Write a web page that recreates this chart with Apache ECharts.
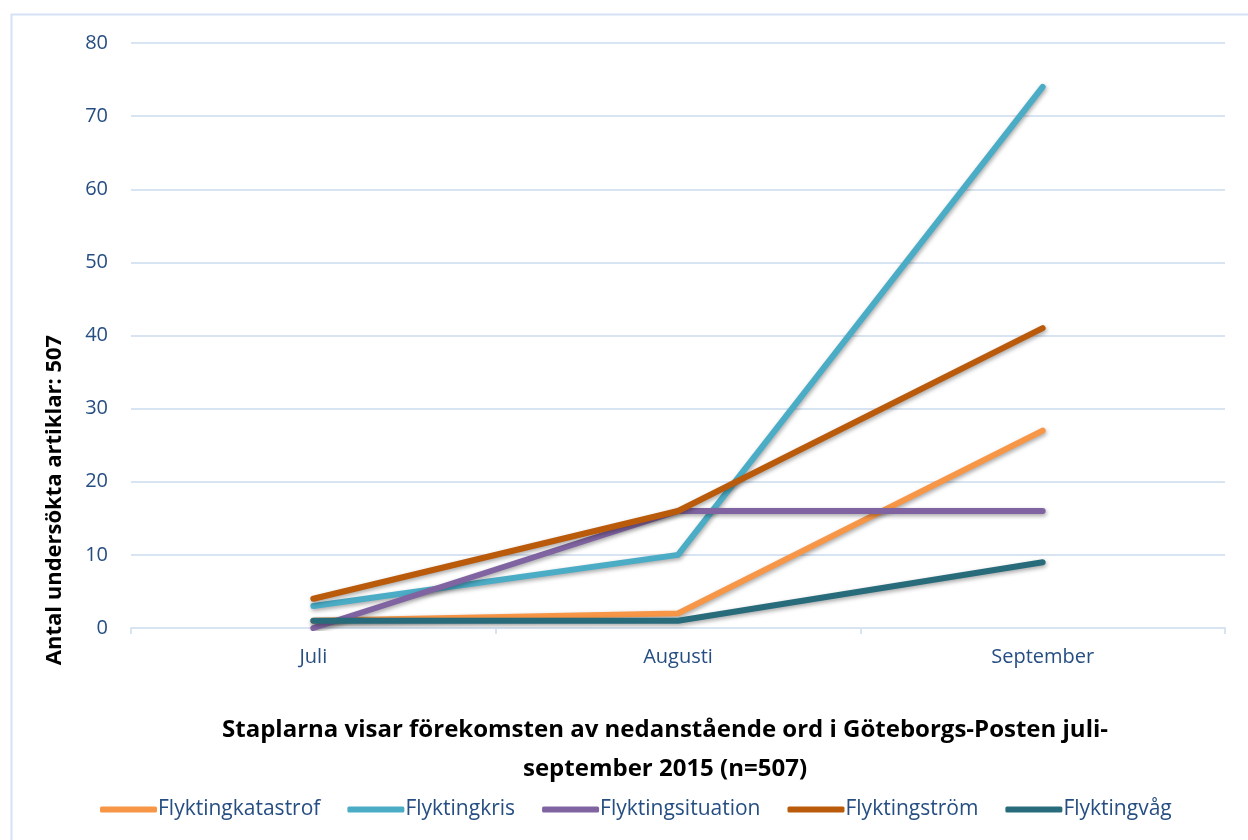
<!DOCTYPE html>
<html>
<head>
<meta charset="utf-8">
<script src="https://cdn.jsdelivr.net/npm/echarts@6/dist/echarts.min.js"></script>
<style>
  html, body { margin: 0; padding: 0; background: #fff; }
  #chart { width: 1248px; height: 840px; }
</style>
</head>
<body>
<div id="chart"></div>
<script>
const months = ['Juli', 'Augusti', 'September']
const seriesNames = ['Flyktingkatastrof', 'Flyktingkris', 'Flyktingsituation', 'Flyktingström', 'Flyktingvåg']
const katastrof = [1, 2, 27]
const kris = [3, 10, 74]
const situation = [0, 16, 16]
const strom = [4, 16, 41]
const vag = [1, 1, 9]
const colors = ['#F79646', '#4BACC6', '#8064A2', '#BA5A0B', '#286C7C']

const textBlue = '#264E82'
const gridColor = '#D9E4F2'
const font = '"Open Sans", Lato, sans-serif'

const chart = echarts.init(document.getElementById('chart'))

const values = [katastrof, kris, situation, strom, vag]

const option = {
  animation: false,
  textStyle: { fontFamily: font },
  graphic: [{
    type: 'rect',
    shape: { x: 11.5, y: 14.5, width: 1250, height: 840 },
    style: { fill: 'none', stroke: '#D6E2F3', lineWidth: 2 },
    silent: true
  }, {
    // y axis title, placed like in the Excel original (not centred on the axis)
    type: 'text',
    x: 55,
    y: 500,
    rotation: Math.PI / 2,
    style: {
      text: 'Antal undersökta artiklar: 507',
      fontFamily: font,
      fontSize: 22,
      fontWeight: 'bold',
      fill: '#000',
      align: 'center',
      verticalAlign: 'middle'
    }
  }],
  title: {
    text: 'Staplarna visar förekomsten av nedanstående ord i Göteborgs-Posten juli-\nseptember 2015 (n=507)',
    left: 660,
    textAlign: 'center',
    top: 706,
    textStyle: {
      fontFamily: font,
      fontSize: 24,
      fontWeight: 'bold',
      color: '#000',
      lineHeight: 39
    }
  },
  legend: {
    data: seriesNames,
    top: 794,
    left: 95,
    itemWidth: 57,
    itemHeight: 6,
    itemGap: 27,
    icon: 'roundRect',
    textStyle: { fontFamily: font, fontSize: 21, color: textBlue, padding: [0, 0, 0, -4] }
  },
  grid: {
    left: 131,
    right: 23,
    top: 43,
    bottom: 212,
    containLabel: false
  },
  xAxis: {
    type: 'category',
    data: months,
    boundaryGap: true,
    axisLine: { lineStyle: { color: gridColor, width: 2 } },
    axisTick: { show: true, length: 6, lineStyle: { color: gridColor, width: 2 } },
    axisLabel: { fontFamily: font, fontSize: 20, color: textBlue, margin: 19 }
  },
  yAxis: {
    type: 'value',
    min: 0,
    max: 80,
    interval: 10,
    axisLine: { show: false },
    axisTick: { show: false },
    axisLabel: { fontFamily: font, fontSize: 20, color: textBlue, margin: 23 },
    splitLine: { lineStyle: { color: gridColor, width: 2 } }
  },
  series: seriesNames.map((name, i) => ({
    name: name,
    type: 'line',
    data: values[i],
    symbol: 'none',
    color: colors[i],
    lineStyle: {
      width: 6,
      color: colors[i],
      cap: 'round',
      join: 'round',
      shadowColor: 'rgba(0,0,0,0.35)',
      shadowBlur: 4,
      shadowOffsetX: 1,
      shadowOffsetY: 2
    }
  }))
}

chart.setOption(option)
</script>
</body>
</html>
